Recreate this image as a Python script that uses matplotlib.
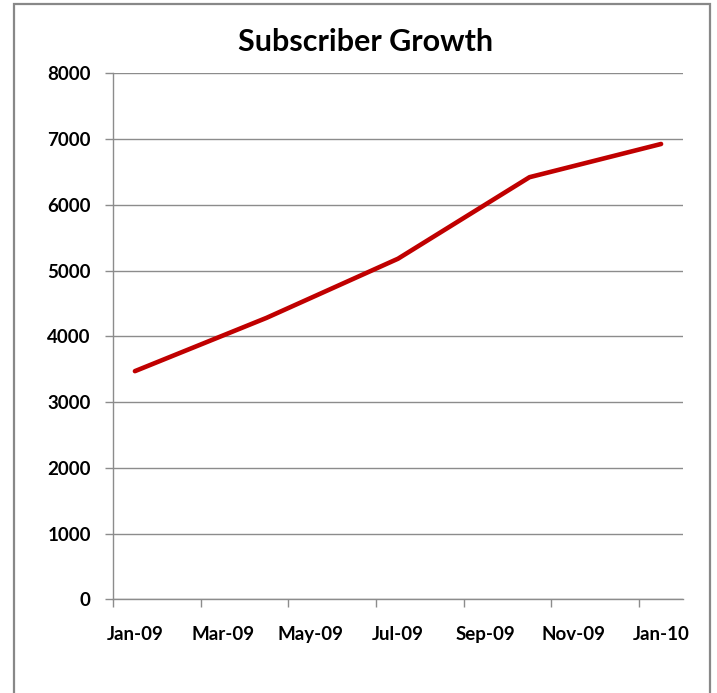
import matplotlib.pyplot as plt
from matplotlib.patches import Rectangle

# ============== DATA ==============
all_months = ['Jan-09', 'Feb-09', 'Mar-09', 'Apr-09', 'May-09', 'Jun-09', 'Jul-09',
              'Aug-09', 'Sep-09', 'Oct-09', 'Nov-09', 'Dec-09', 'Jan-10']
data_months = ['Jan-09', 'Apr-09', 'Jul-09', 'Oct-09', 'Jan-10']
subscribers = [3470, 4280, 5180, 6420, 6925]
label_months = ['Jan-09', 'Mar-09', 'May-09', 'Jul-09', 'Sep-09', 'Nov-09', 'Jan-10']
y_ticks = [0, 1000, 2000, 3000, 4000, 5000, 6000, 7000, 8000]

plt.rcParams['font.family'] = ['Lato', 'DejaVu Sans']
plt.rcParams['font.weight'] = 'bold'

W, H = 717, 693
fig = plt.figure(figsize=(W / 100, H / 100), dpi=100)
ax = fig.add_axes([113 / W, 1 - 599.3 / H, (683 - 113) / W, (599.3 - 73.3) / H])

# each month is a slot, points sit in the middle of the slot (Excel style)
xs = [all_months.index(m) + 0.5 for m in data_months]
ax.plot(xs, subscribers, color='#C00000', lw=3.3, solid_capstyle='round',
        solid_joinstyle='round', zorder=3)

grey = '#8c8c8c'
ax.set_xlim(0, len(all_months))
ax.set_ylim(0, 8000)
ax.set_yticks(y_ticks)
ax.set_yticklabels([str(v) for v in y_ticks])
ax.grid(axis='y', color=grey, lw=1.0)
ax.set_axisbelow(True)

ax.set_xticks(range(0, len(all_months) + 1, 2))
ax.set_xticklabels([])
ax.set_xticks([all_months.index(m) + 0.5 for m in label_months], minor=True)
ax.set_xticklabels(label_months, minor=True)
ax.tick_params(axis='x', which='major', length=6, width=1, color=grey, direction='out')
ax.tick_params(axis='x', which='minor', length=0, pad=19, labelsize=13.5)
ax.tick_params(axis='y', length=6, width=1, color=grey, pad=10, labelsize=13.5)

for s in ['top', 'right']:
    ax.spines[s].set_visible(False)
for s in ['left', 'bottom']:
    ax.spines[s].set_color(grey)
    ax.spines[s].set_linewidth(1.0)

fig.text(366 / W, 1 - 42 / H, 'Subscriber Growth', ha='center', va='center',
         fontsize=22, fontweight='bold')

# chart area border
fig.patches.append(Rectangle((14 / W, -0.1), (710 - 14) / W, 1.1 - 4 / H,
                             transform=fig.transFigure, fill=False,
                             edgecolor='#888888', lw=1.6))

fig.savefig('out.png', dpi=100, facecolor='white')
